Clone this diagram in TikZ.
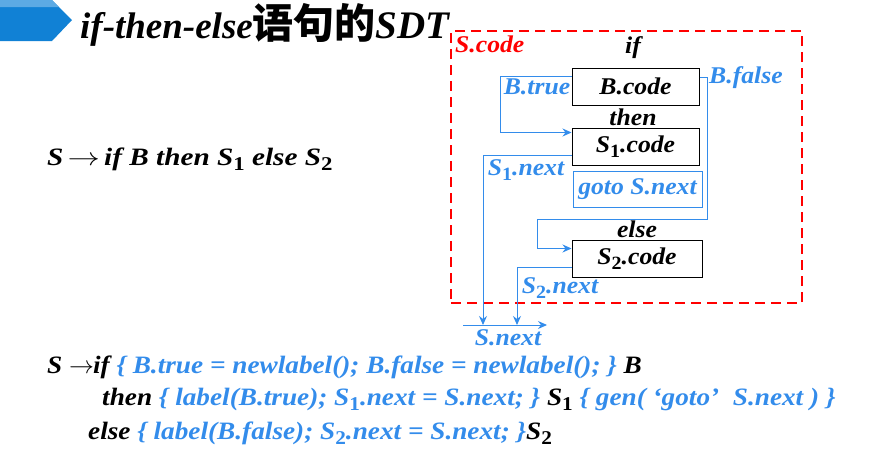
\documentclass[tikz,border=0pt]{standalone}
\usepackage{fontspec}
\setmainfont{Liberation Serif}
\newfontfamily\diagfont{Liberation Serif}[FakeStretch=1.07]
\newfontfamily\prodfont{Liberation Serif}[FakeStretch=1.17]
\newfontfamily\rulefont{Liberation Serif}[FakeStretch=1.09]
\newfontfamily\cjk{Noto Sans CJK SC}
\usetikzlibrary{arrows.meta,calc}
\definecolor{lblue}{RGB}{51,140,235}
\definecolor{bannerdark}{RGB}{17,129,213}
\definecolor{bannerlight}{RGB}{92,170,228}
\makeatletter
\newcommand{\sbs}[1]{\raisebox{-0.22em}{\upshape\fontsize{\fpeval{0.78*\f@size}}{1}\selectfont #1}}
\makeatother
\newcommand{\longarr}{\scalebox{1.3}[1]{$\rightarrow$}}
\begin{document}
\begin{tikzpicture}[x=1pt,y=-1pt,
  every node/.style={font=\diagfont\bfseries\itshape\fontsize{24}{26}\selectfont, inner sep=0pt},
  codebox/.style={draw=black, line width=1pt, minimum width=127pt, minimum height=37pt},
  conn/.style={draw=lblue, line width=1pt},
  tip/.style={-{Stealth[length=9pt,width=8pt,inset=3pt]}},
  prodtext/.style={font=\prodfont\bfseries\itshape\fontsize{25}{27}\selectfont, anchor=base west},
  ruletext/.style={font=\rulefont\bfseries\itshape\fontsize{25}{27}\selectfont, anchor=base west}]
\useasboundingbox (0,0) rectangle (883,461);
% banner
\fill[bannerdark] (0,0) -- (52,0) -- (72,20) -- (52,41) -- (0,41) -- cycle;
\fill[bannerlight] (0,0) -- (52,0) -- (59,7) -- (0,7) -- cycle;
\node[anchor=base west, font=\bfseries\itshape\fontsize{37}{40}\selectfont] (title) at (80,38)
  {if-then-else{\cjk\upshape\fontsize{41}{42}\selectfont 语句的}{\fontsize{39}{40}\selectfont SDT}};
% red dashed frame
\node[draw=red, line width=2.2pt, dash pattern=on 10pt off 6pt,
  minimum width=351pt, minimum height=272pt] (frame) at (626.5,167) {};
\node[red, anchor=west] (sc) at (455,44) {S.code};
% code boxes
\node (if) at (633,48) {if};
\node[codebox] (bcode) at (635.5,86.5) {B.code};
\node (then) at (633,117) {then};
\node[codebox] (s1code) at (635.5,146.5) {S\sbs{1}.code};
\node[codebox, draw=lblue, text=lblue, minimum width=129pt, minimum height=36pt] (goto) at (637.5,189) {goto S.next};
\node (else) at (637,229) {else};
\node[codebox, minimum width=130pt] (s2code) at (637,258.5) {S\sbs{2}.code};
% labels
\node[lblue] (btrue) at (537,87) {B.true};
\node[lblue, anchor=west] (bfalse) at (709,78) {B.false};
\node[lblue] (s1next) at (526,170) {S\sbs{1}.next};
\node[lblue] (s2next) at (560,288) {S\sbs{2}.next};
\node[lblue] (snext) at (508,338) {S.next};
% coordinates
\coordinate (bf1) at (707,219);
\coordinate (bf2) at (537,219);
\coordinate (snA) at (483,325);
\coordinate (snB) at (517,325);
\coordinate (sn0) at (463,325);
\coordinate (sn1) at (547,325);
% connectors
\draw[conn, tip] ([yshift=-9pt]bcode.north west) -| ([xshift=-71pt,yshift=-5pt]s1code.north west) -- ([yshift=-5pt]s1code.north west);
\draw[conn, tip] ([yshift=-10pt]bcode.north east) -| (bf1) -- (bf2) |- ([yshift=-9pt]s2code.north west);
\draw[conn, tip] ([yshift=-28pt]s1code.north west) -| (snA);
\draw[conn, tip] ([yshift=-28pt]s2code.north west) -| (snB);
\draw[conn, tip] (sn0) -- (sn1);
% productions
\node[prodtext] (prod) at (47,165) {S\,\longarr\,if B then S\sbs{1} else S\sbs{2}};
\node[ruletext] (l1) at (47,373) {S $\rightarrow$\kern-1pt if {\color{lblue}\{ B.true = newlabel(); B.false = newlabel(); \}} B};
\node[ruletext] (l2) at (102,405) {then {\color{lblue}\{ label(B.true); S\sbs{1}.next = S.next; \}} S\sbs{1} {\color{lblue}\{ gen( ‘goto’~~S.next ) \}}};
\node[ruletext] (l3) at (88,439) {else {\color{lblue}\{ label(B.false); S\sbs{2}.next = S.next; \}}S\sbs{2}};
\end{tikzpicture}
\end{document}
